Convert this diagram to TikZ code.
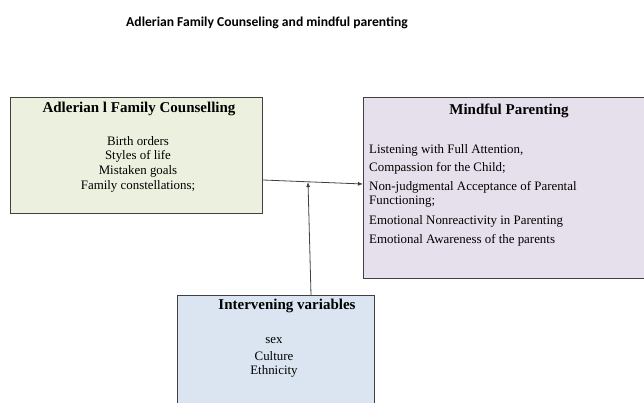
\documentclass[tikz,border=0pt]{standalone}
\usepackage{fontspec}
\setmainfont{Liberation Serif}
\newfontfamily\titlefont{Carlito}
\usetikzlibrary{arrows.meta}
\definecolor{boxgreen}{HTML}{EBF1DE}
\definecolor{boxpurple}{HTML}{E6E0EC}
\definecolor{boxblue}{HTML}{DBE5F1}
\definecolor{edgegray}{HTML}{404040}
\tikzset{
  panel/.style={draw=edgegray, line width=0.9pt, inner sep=0pt, anchor=north west},
  heading/.style={font=\fontsize{15}{17}\selectfont\bfseries, inner sep=0pt},
  body/.style={font=\fontsize{12.9}{15}\selectfont, inner sep=0pt},
  link/.style={draw=edgegray, line width=0.8pt, -{Latex[length=5pt,width=4pt]}}
}
\begin{document}
\begin{tikzpicture}[x=1pt,y=-1pt]
\useasboundingbox (0,0) rectangle (644,402);
\begin{scope}
\clip (0,0) rectangle (644,402);
\node[panel, fill=boxgreen, minimum width=252pt, minimum height=116pt] (adler) at (10,97) {};
\node[panel, fill=boxpurple, minimum width=290pt, minimum height=181pt] (mind) at (363,97) {};
\node[panel, fill=boxblue, minimum width=197pt, minimum height=120pt] (interv) at (177,295) {};
\end{scope}
\node[font=\titlefont\fontsize{13.6}{16}\selectfont\bfseries, inner sep=0pt] (title) at (267,23) {Adlerian Family Counseling and mindful parenting};
% left box
\node[heading] (adlerT) at (139,109) {Adlerian l Family Counselling};
\node[body] (a1) at (138,141) {Birth orders};
\node[body] (a2) at (138,156) {Styles of life};
\node[body] (a3) at (138,171) {Mistaken goals};
\node[body] (a4) at (138,186) {Family constellations;};
% right box
\node[heading] (mindT) at (509,111) {Mindful Parenting};
\node[body, anchor=west] (m1) at (369,150) {Listening with Full Attention,};
\node[body, anchor=west] (m2) at (369,168) {Compassion for the Child;};
\node[body, anchor=west] (m3) at (369,187) {Non-judgmental Acceptance of Parental};
\node[body, anchor=west] (m4) at (369,202) {Functioning;};
\node[body, anchor=west] (m5) at (369,221) {Emotional Nonreactivity in Parenting};
\node[body, anchor=west] (m6) at (369,240) {Emotional Awareness of the parents};
% bottom box
\node[heading] (intervT) at (287,306) {Intervening variables};
\node[body] (i1) at (274,341) {sex};
\node[body] (i2) at (274,356) {Culture};
\node[body] (i3) at (274,371) {Ethnicity};
% connectors
\coordinate (hstart) at (adler.north east |- 0,180);
\coordinate (hend) at (mind.north west |- 0,184);
\coordinate (vstart) at (311,295);
\coordinate (vend) at (308,182);
\draw[link] (hstart) -- (hend);
\draw[link] (vstart) -- (vend);
\end{tikzpicture}
\end{document}
